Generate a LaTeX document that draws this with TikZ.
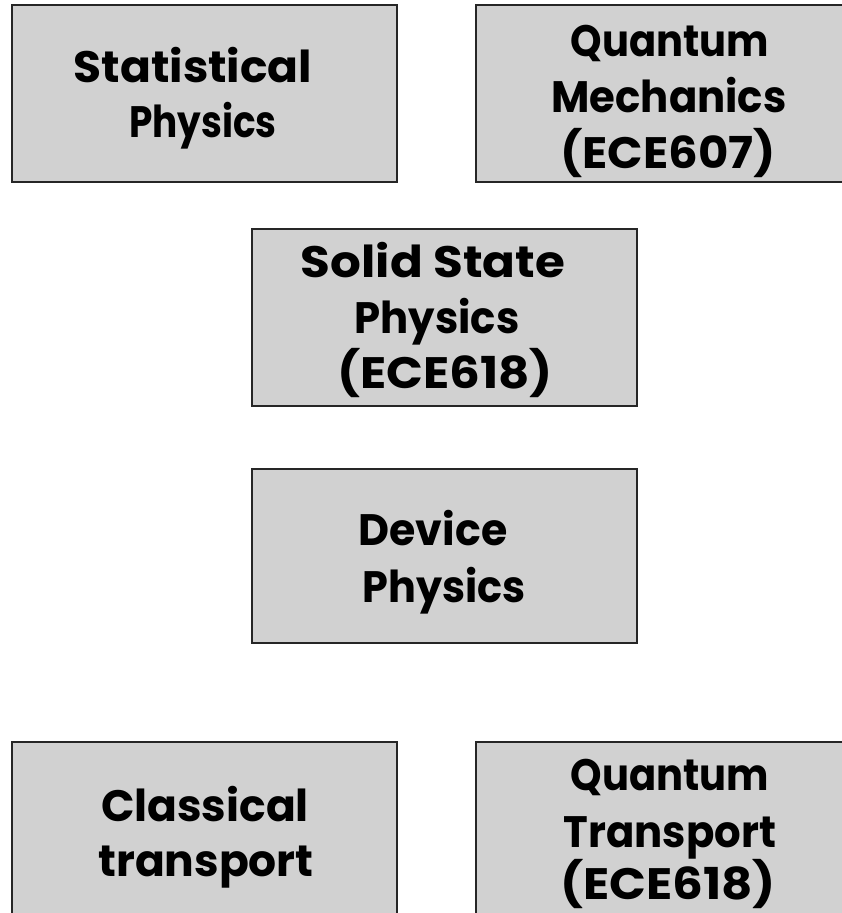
\documentclass[tikz,border=0pt]{standalone}
\usepackage{fontspec}
\usepackage{graphicx}
\setmainfont{Poppins}
\newcommand\hsq[2]{\scalebox{#1}[1]{#2}}
\begin{document}
\begin{tikzpicture}[x=1pt,y=-1pt,
  topic/.style={draw=black!85,line width=1.3pt,fill=black!18,inner sep=0pt},
  lbl/.style={anchor=base,inner sep=0pt,font=\fontsize{44}{52}\selectfont\bfseries}]
\useasboundingbox (0,0) rectangle (842,913);
\path[topic] (12,5) rectangle (397,182) coordinate (statbox);
\path[topic] (476,5) rectangle (862,182) coordinate (qmbox);
\path[topic] (252,229) rectangle (637,406) coordinate (ssbox);
\path[topic] (252,469) rectangle (637,643) coordinate (devbox);
\path[topic] (12,742) rectangle (397,930) coordinate (ctbox);
\path[topic] (476,742) rectangle (862,930) coordinate (qtbox);
% Statistical Physics
\node[lbl] (s1) at (193,82) {\hsq{1.035}{Statistical}};
\node[lbl] (s2) at (203,137) {\hsq{0.85}{Physics}};
% Quantum Mechanics
\node[lbl] (q1) at (670,56) {\hsq{0.91}{Quantum}};
\node[lbl] (q2) at (669,112) {\hsq{0.95}{Mechanics}};
\node[lbl] (q3) at (668,168) {\hsq{1.06}{(ECE607)}};
% Solid State Physics
\node[lbl] (ss1) at (433,277) {\hsq{1.1}{Solid State}};
\node[lbl] (ss2) at (437,333) {\hsq{0.95}{Physics}};
\node[lbl] (ss3) at (445,388) {\hsq{1.1}{(ECE618)}};
% Device Physics
\node[lbl] (d1) at (433,545) {\hsq{0.97}{Device}};
\node[lbl] (d2) at (444,602) {\hsq{0.94}{Physics}};
% Classical transport
\node[lbl] (c1) at (205,821) {Classical};
\node[lbl] (c2) at (206,876) {transport};
% Quantum Transport
\node[lbl] (t1) at (670,790) {\hsq{0.91}{Quantum}};
\node[lbl] (t2) at (670,847) {\hsq{0.95}{Transport}};
\node[lbl] (t3) at (668,899) {\hsq{1.1}{(ECE618)}};
\end{tikzpicture}
\end{document}
